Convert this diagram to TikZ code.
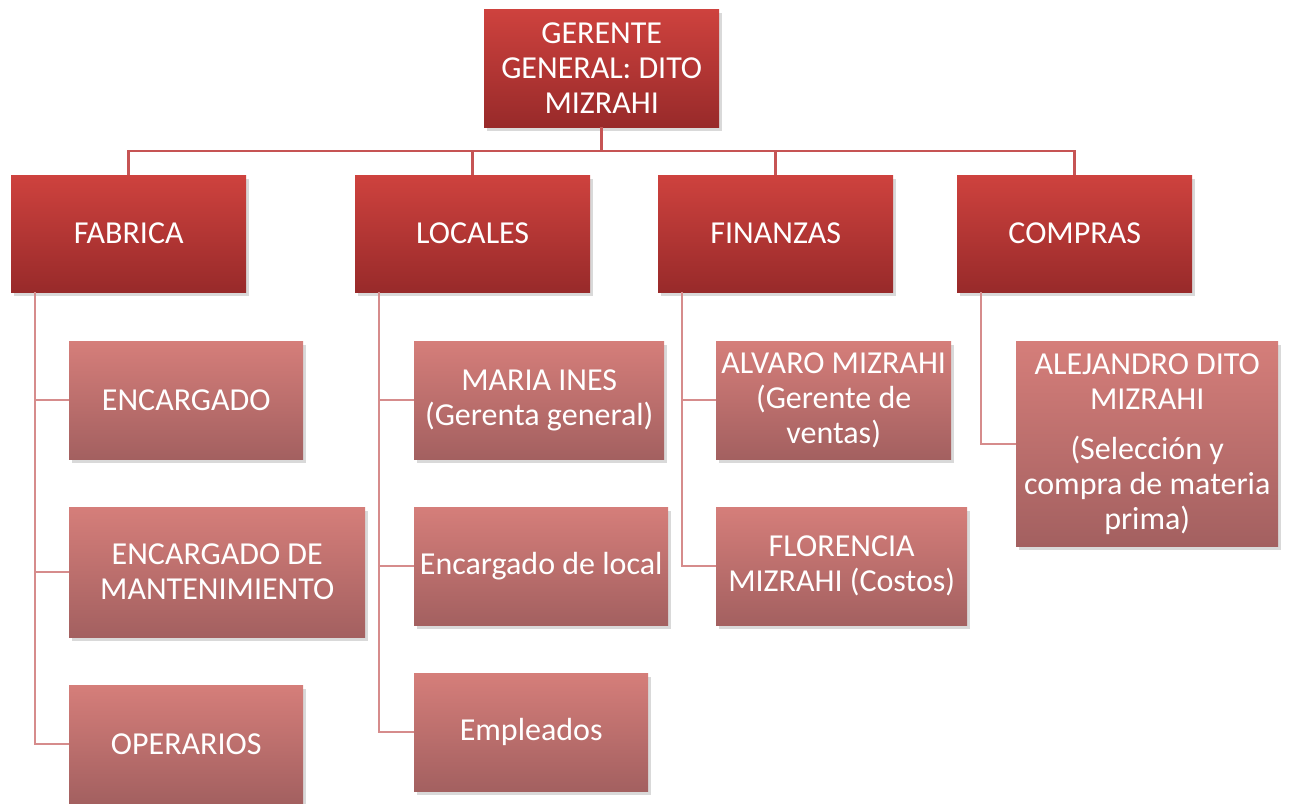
\documentclass[tikz,border=0pt]{standalone}
\usepackage{fontspec}
\setmainfont{Carlito}
\usetikzlibrary{positioning,shadows,calc}
\definecolor{redTop}{RGB}{206,66,62}
\definecolor{redBot}{RGB}{152,42,42}
\definecolor{pinkTop}{RGB}{213,126,122}
\definecolor{pinkBot}{RGB}{163,96,96}
\definecolor{busLine}{RGB}{198,84,84}
\definecolor{branchLine}{RGB}{214,140,140}
\tikzset{
  head/.style={rectangle, anchor=north west, top color=redTop, bottom color=redBot,
               text=white, align=center, inner sep=0pt,
               font=\fontsize{32}{35}\selectfont,
               drop shadow={shadow xshift=3pt, shadow yshift=-4pt, opacity=.3}},
  member/.style={head, top color=pinkTop, bottom color=pinkBot},
  link/.style={draw=busLine, line width=2.5pt},
  sublink/.style={draw=branchLine, line width=2pt}
}

\begin{document}
\begin{tikzpicture}[x=1pt, y=1pt]
\useasboundingbox (0,0) rectangle (1289,-803);

\coordinate (bus) at (0,-151);

\node[head, minimum width=235, minimum height=118] (gg) at (484,-9) {GERENTE\\GENERAL: DITO\\MIZRAHI};

\node[head, minimum width=235, minimum height=117] (fab) at (11,-175) {FABRICA};
\node[head, minimum width=235, minimum height=117] (loc) at (355,-175) {LOCALES};
\node[head, minimum width=235, minimum height=117] (fin) at (658,-175) {FINANZAS};
\node[head, minimum width=235, minimum height=117] (com) at (957,-175) {COMPRAS};

\coordinate (fabx) at ($(fab.south west)+(24,0)$);
\coordinate (locx) at ($(loc.south west)+(24,0)$);
\coordinate (finx) at ($(fin.south west)+(24,0)$);
\coordinate (comx) at ($(com.south west)+(24,0)$);

\node[member, minimum width=234, minimum height=118] (enc) at (69,-341) {ENCARGADO};
\node[member, minimum width=296, minimum height=130] (man) at (69,-507) {ENCARGADO DE\\MANTENIMIENTO};
\node[member, minimum width=234, minimum height=118] (ope) at (69,-685) {OPERARIOS};

\node[member, minimum width=250, minimum height=118] (mar) at (414,-341) {MARIA INES\\(Gerenta general)};
\node[member, minimum width=254, minimum height=118] (enl) at (414,-507) {Encargado de local};
\node[member, minimum width=234, minimum height=118] (emp) at (414,-673) {Empleados};

\node[member, minimum width=235, minimum height=118] (alv) at (716,-341) {ALVARO MIZRAHI\\(Gerente de\\ventas)};
\node[member, minimum width=251, minimum height=118] (flo) at (716,-507) {FLORENCIA\\MIZRAHI (Costos)};

\node[member, minimum width=262, minimum height=205] (ale) at (1016,-341) {ALEJANDRO DITO\\MIZRAHI\\[15pt](Selección y\\compra de materia\\prima)};

\draw[link] (gg.south) -- (gg.south |- bus) -| (fab.north);
\draw[link] (gg.south |- bus) -| (loc.north);
\draw[link] (gg.south |- bus) -| (fin.north);
\draw[link] (gg.south |- bus) -| (com.north);

\draw[sublink] (fabx) |- (enc.west);
\draw[sublink] (fabx) |- (man.west);
\draw[sublink] (fabx) |- (ope.west);
\draw[sublink] (locx) |- (mar.west);
\draw[sublink] (locx) |- (enl.west);
\draw[sublink] (locx) |- (emp.west);
\draw[sublink] (finx) |- (alv.west);
\draw[sublink] (finx) |- (flo.west);
\draw[sublink] (comx) |- (ale.west);
\end{tikzpicture}
\end{document}
